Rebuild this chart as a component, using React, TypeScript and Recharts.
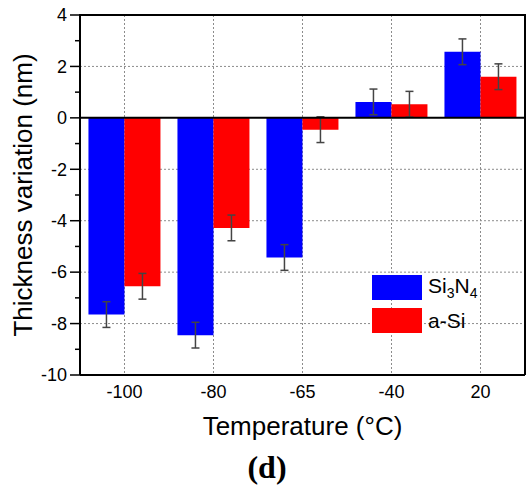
import React from "react";
import {
  BarChart,
  Bar,
  XAxis,
  YAxis,
  CartesianGrid,
  ReferenceLine,
  ErrorBar,
  Legend,
} from "recharts";

const temperatures = ["-100", "-80", "-65", "-40", "20"];
const si3n4 = [-7.65, -8.45, -5.43, 0.62, 2.57];
const si3n4Err = [0.5, 0.5, 0.5, 0.5, 0.5];
const aSi = [-6.55, -4.28, -0.46, 0.53, 1.6];
const aSiErr = [0.5, 0.5, 0.5, 0.5, 0.5];
const yTicks = [-10, -9, -8, -7, -6, -5, -4, -3, -2, -1, 0, 1, 2, 3, 4];
const gridValues = [-8, -6, -4, -2, 2];
const frameTop = [4];

const W = 530;
const H = 488;
const MARGIN = { top: 15, right: 0, bottom: 83, left: 30 };
const LEFT_AXIS_W = 50;
const RIGHT_AXIS_W = 5;
const SANS = "'Liberation Sans', Arial, sans-serif";
const BLUE = "#0000ff";
const RED = "#ff0000";

const data = temperatures.map((t, i) => ({
  temp: t,
  si3n4: si3n4[i],
  si3n4Err: si3n4Err[i],
  aSi: aSi[i],
  aSiErr: aSiErr[i],
}));

const LeftTick = (props: any) => {
  const { x, y, payload } = props;
  const major = payload.value % 2 === 0;
  return (
    <g>
      <line x1={x - (major ? 10 : 5)} x2={x} y1={y} y2={y} stroke="#000" strokeWidth={1.5} />
      {major && (
        <text x={x - 13} y={y} dy="0.35em" textAnchor="end" fontSize={18} fontFamily={SANS} fill="#000">
          {payload.value}
        </text>
      )}
    </g>
  );
};

const RightTick = (props: any) => {
  const { x, y } = props;
  return <line x1={x} x2={x + 4} y1={y} y2={y} stroke="#000" strokeWidth={1.5} />;
};

const YTitle = (props: any) => {
  const { viewBox } = props;
  const cy = viewBox.y + viewBox.height / 2;
  return (
    <text
      x={32}
      y={cy}
      transform={`rotate(-90, 32, ${cy})`}
      textAnchor="middle"
      fontSize={26}
      fontFamily={SANS}
      fill="#000"
    >
      Thickness variation (nm)
    </text>
  );
};

// x title, panel tag and the top frame line of the plot box
const XTitle = (props: any) => {
  const { viewBox } = props;
  const cx = viewBox.x + viewBox.width / 2;
  return (
    <g>
      <rect
        x={MARGIN.left + LEFT_AXIS_W - 1}
        y={MARGIN.top - 1}
        width={W - RIGHT_AXIS_W - MARGIN.left - LEFT_AXIS_W + 2}
        height={2}
        fill="#000"
      />
      <text x={cx} y={435} textAnchor="middle" fontSize={26} fontFamily={SANS} fill="#000">
        Temperature (°C)
      </text>
      <text
        x={267}
        y={478}
        textAnchor="middle"
        fontSize={32}
        fontWeight="bold"
        fontFamily="'Liberation Serif', 'Times New Roman', serif"
        fill="#000"
      >
        (d)
      </text>
    </g>
  );
};

const LegendContent = () => (
  <div style={{ fontFamily: SANS, fontSize: 21, color: "#000" }}>
    <div style={{ display: "flex", alignItems: "center", height: 33 }}>
      <div style={{ width: 50, height: 25, background: BLUE }} />
      <span style={{ marginLeft: 6 }}>
        Si<sub style={{ fontSize: 14 }}>3</sub>N<sub style={{ fontSize: 14 }}>4</sub>
      </span>
    </div>
    <div style={{ display: "flex", alignItems: "center", height: 33 }}>
      <div style={{ width: 50, height: 25, background: RED }} />
      <span style={{ marginLeft: 6 }}>a-Si</span>
    </div>
  </div>
);

export default function App() {
  return (
    <div style={{ position: "absolute", left: 0, top: 0, background: "#fff" }}>
      <BarChart
        width={W}
        height={H}
        data={data}
        margin={MARGIN}
        barCategoryGap="9.5%"
        barGap={0}
      >
        <CartesianGrid
          stroke="#8c8c8c"
          strokeWidth={1}
          strokeDasharray="2 2"
          horizontalValues={gridValues}
        />
        <CartesianGrid
          stroke="#000"
          strokeWidth={2}
          vertical={false}
          horizontalValues={frameTop}
        />
        <XAxis
          dataKey="temp"
          height={30}
          tickLine={false}
          tickSize={0}
          tickMargin={10}
          axisLine={{ stroke: "#000", strokeWidth: 2 }}
          tick={{ fontSize: 18, fill: "#000", fontFamily: SANS }}
          label={<XTitle />}
        />
        <YAxis
          width={LEFT_AXIS_W}
          domain={[-10, 4]}
          ticks={yTicks}
          interval={0}
          tickLine={false}
          tickSize={0}
          tickMargin={0}
          tick={<LeftTick />}
          axisLine={{ stroke: "#000", strokeWidth: 2 }}
          label={<YTitle />}
        />
        <YAxis
          yAxisId="right"
          orientation="right"
          width={RIGHT_AXIS_W}
          domain={[-10, 4]}
          ticks={yTicks}
          interval={0}
          tickLine={false}
          tickSize={0}
          tickMargin={0}
          tick={<RightTick />}
          axisLine={{ stroke: "#000", strokeWidth: 2 }}
        />
        <Bar dataKey="si3n4" name="Si3N4" fill={BLUE} isAnimationActive={false}>
          <ErrorBar dataKey="si3n4Err" direction="y" width={4} stroke="#444" strokeWidth={1.5} isAnimationActive={false} />
        </Bar>
        <Bar dataKey="aSi" name="a-Si" fill={RED} isAnimationActive={false}>
          <ErrorBar dataKey="aSiErr" direction="y" width={4} stroke="#444" strokeWidth={1.5} isAnimationActive={false} />
        </Bar>
        <ReferenceLine y={0} stroke="#000" strokeWidth={2} />
        <Legend
          layout="vertical"
          align="center"
          verticalAlign="middle"
          content={<LegendContent />}
          wrapperStyle={{ left: 372, top: 271, width: "auto", height: "auto" }}
        />
      </BarChart>
    </div>
  );
}
